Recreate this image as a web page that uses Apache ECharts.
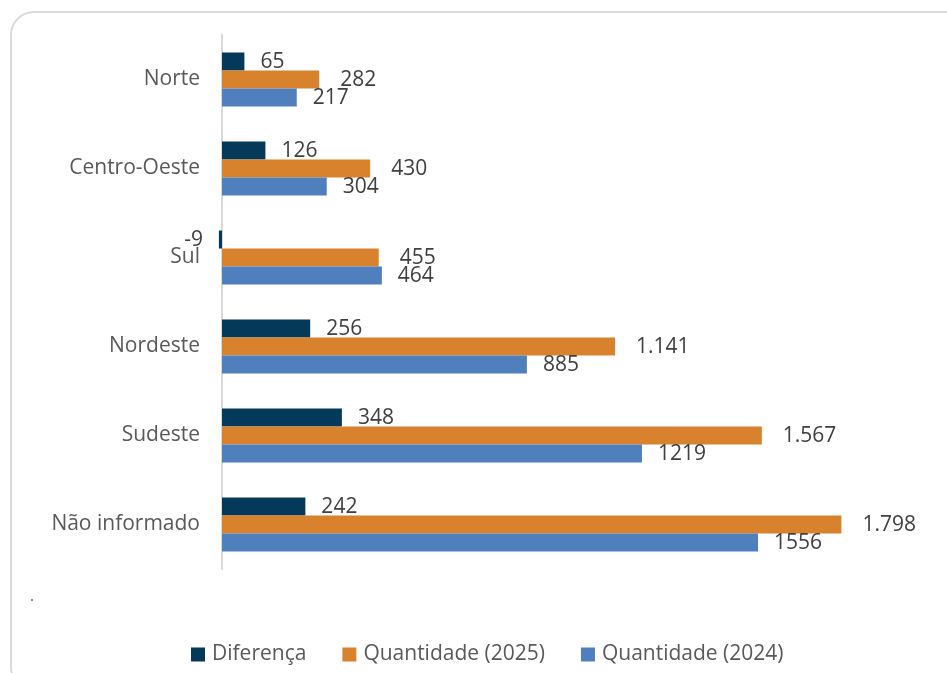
<!DOCTYPE html>
<html>
<head>
<meta charset="utf-8">
<script src="https://cdn.jsdelivr.net/npm/echarts@6/dist/echarts.min.js"></script>
<style>
  html, body { margin: 0; padding: 0; background: #fff; overflow: hidden; }
  #frame {
    position: absolute; left: 10px; top: 11px; width: 960px; height: 680px;
    border: 2.5px solid #dadada; border-radius: 24px; box-sizing: border-box;
  }
  #main { position: absolute; left: 0; top: 0; width: 947px; height: 673px; }
</style>
</head>
<body>
<div id="frame"></div>
<div id="main"></div>
<script>
// regioes, de cima para baixo
const regioes = ['Norte', 'Centro-Oeste', 'Sul', 'Nordeste', 'Sudeste', 'Não informado'];
const diferenca = [65, 126, -9, 256, 348, 242];
const qtd2025 = [282, 430, 455, 1141, 1567, 1798];
const qtd2024 = [217, 304, 464, 885, 1219, 1556];

const corDif = '#05395a';
const cor2025 = '#d8822d';
const cor2024 = '#4f80bd';
const fonte = '"Open Sans", sans-serif';

function milhar(v) {
    return String(v).replace(/\B(?=(\d{3})+(?!\d))/g, '.');
}

function labelBase(dist) {
    return {
        show: true,
        position: 'right',
        distance: dist,
        offset: [0, 1],
        color: '#404040',
        fontFamily: fonte,
        fontSize: 21
    };
}

var dom = document.getElementById('main');
var myChart = echarts.init(dom, null, { renderer: 'canvas' });

var option = {
    animation: false,
    grid: { left: 222, right: 36, top: 35, height: 534 },
    xAxis: {
        type: 'value',
        min: 0,
        max: 2000,
        show: false
    },
    yAxis: {
        type: 'category',
        inverse: true,
        data: regioes,
        axisLine: { lineStyle: { color: '#d9d9d9', width: 2 } },
        axisTick: { show: false },
        axisLabel: {
            margin: 22,
            color: '#595959',
            fontFamily: fonte,
            fontSize: 21
        }
    },
    legend: {
        bottom: 3,
        left: 186,
        icon: 'rect',
        itemWidth: 14,
        itemHeight: 14,
        itemGap: 36,
        textStyle: { color: '#595959', fontFamily: fonte, fontSize: 21, padding: [0, 0, 0, 2] },
        data: ['Diferença', 'Quantidade (2025)', 'Quantidade (2024)']
    },
    series: [
        {
            name: 'Diferença',
            type: 'bar',
            clip: false,
            barWidth: 18,
            barGap: '0%',
            itemStyle: { color: corDif },
            label: labelBase(16),
            data: diferenca.map(function (v) {
                if (v < 0) return { value: v, label: { position: 'left', distance: 16 } };
                return v;
            })
        },
        {
            name: 'Quantidade (2025)',
            type: 'bar',
            barWidth: 18,
            barGap: '0%',
            itemStyle: { color: cor2025 },
            label: Object.assign(labelBase(21), {
                formatter: function (p) { return milhar(p.value); }
            }),
            data: qtd2025
        },
        {
            name: 'Quantidade (2024)',
            type: 'bar',
            barWidth: 18,
            barGap: '0%',
            itemStyle: { color: cor2024 },
            label: labelBase(16),
            data: qtd2024
        }
    ],
    graphic: [
        { type: 'circle', shape: { cx: 32, cy: 600, r: 1 }, style: { fill: '#777' } }
    ]
};

if (option && typeof option === 'object') {
    myChart.setOption(option);
}

window.addEventListener('resize', myChart.resize);
</script>
</body>
</html>
